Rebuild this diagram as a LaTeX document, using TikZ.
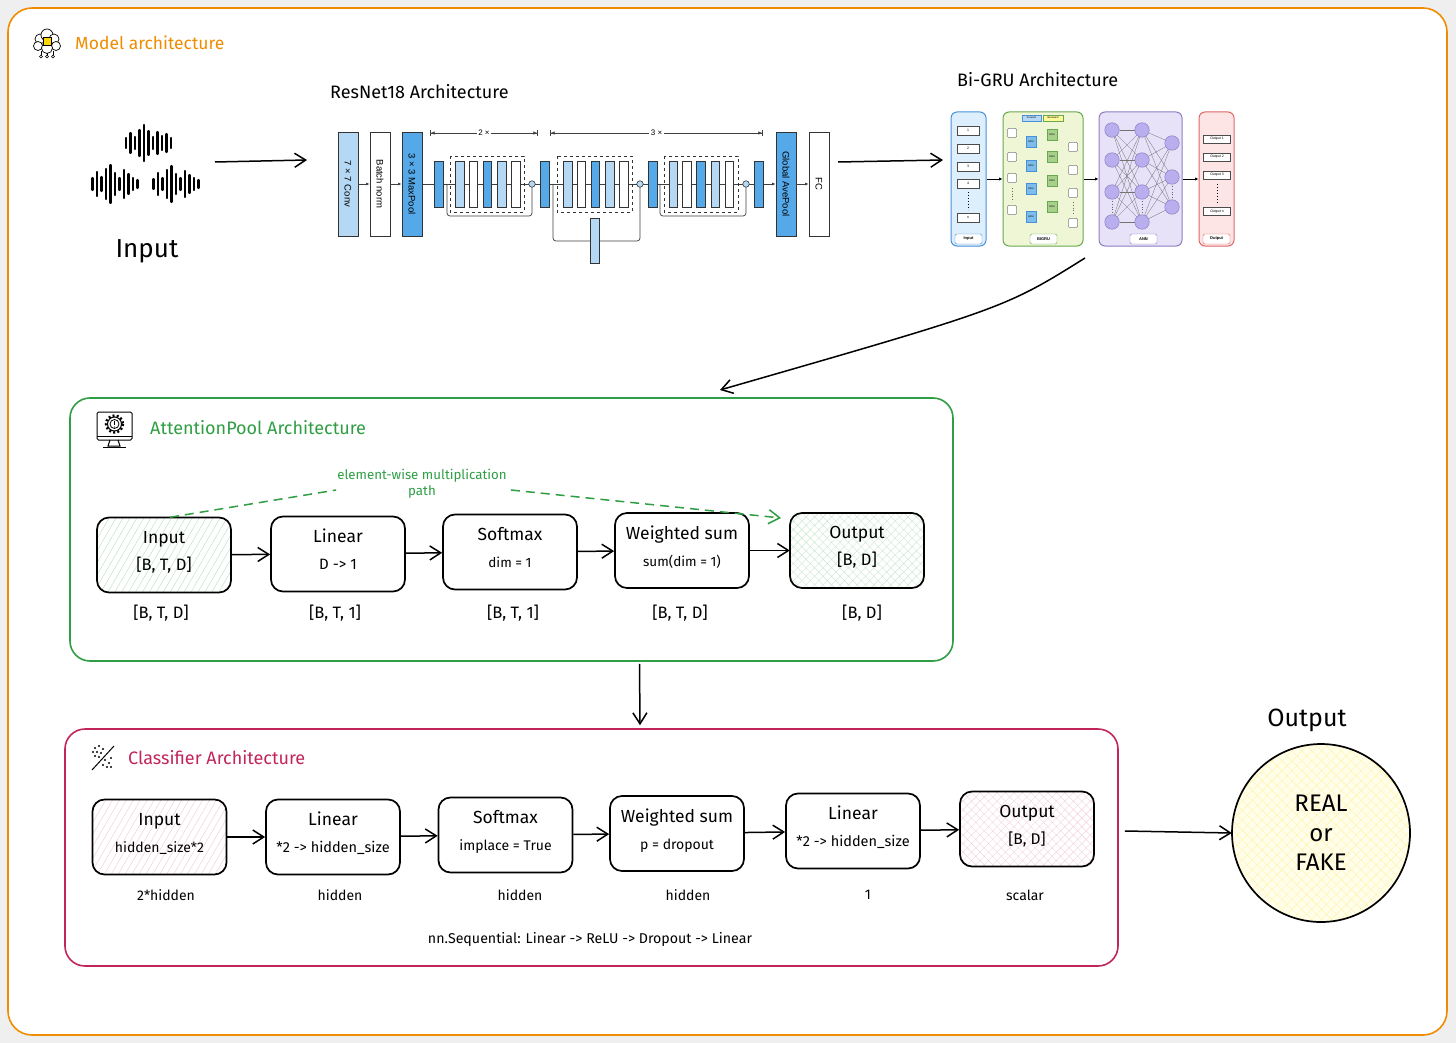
\documentclass[tikz,border=0pt]{standalone}
\usepackage{fontspec}
\setmainfont{Fira Sans}
\newfontfamily\arialf{Liberation Sans}
\usetikzlibrary{arrows.meta,patterns.meta,calc,positioning}
\pgfdeclarelayer{back}
\pgfdeclarelayer{bglayer}
\pgfsetlayers{back,bglayer,main}

\definecolor{orgc}{HTML}{F08C00}
\definecolor{grnc}{HTML}{2F9E44}
\definecolor{pnkc}{HTML}{C2255C}
\definecolor{bgg}{HTML}{EFEFEF}
\definecolor{lblue}{HTML}{B5D8F5}
\definecolor{mblue}{HTML}{56A9E8}
\definecolor{gbord}{HTML}{4A90D9}
\definecolor{ginfill}{HTML}{DDEEFC}
\definecolor{gbifill}{HTML}{EEF6D5}
\definecolor{gbibord}{HTML}{6AA84F}
\definecolor{annfill}{HTML}{E7E2F8}
\definecolor{annbord}{HTML}{8E7CC3}
\definecolor{annnode}{HTML}{B9AEEE}
\definecolor{outfill}{HTML}{FDE5E5}
\definecolor{outbord}{HTML}{E06666}
\definecolor{grugreen}{HTML}{A8D08D}
\definecolor{grublue}{HTML}{7DBDEB}

\newcommand\boxtxt[2]{#1\\[7pt]{\fontsize{14}{16}\selectfont #2}\rule[-9pt]{0pt}{1pt}}

\tikzset{
  harr/.style={line width=1.5pt, -{Straight Barb[length=11pt,width=14pt]}},
  blk/.style={draw=black, line width=1.7pt, rounded corners=12pt, minimum width=134pt, minimum height=75pt, inner sep=2pt, align=center, font=\fontsize{17.5}{20}\selectfont},
  undl/.style={font=\fontsize{14}{16}\selectfont, inner sep=1pt},
  ctitle/.style={anchor=west, inner sep=0, font=\fontsize{18}{20}\selectfont},
  cont/.style={line width=1.6pt, rounded corners=20pt, inner sep=0},
  rn/.style={draw=black!80, line width=0.7pt, inner sep=0, minimum width=104pt, minimum height=20pt, rotate=-90, font=\arialf\fontsize{9.5}{10}\selectfont},
  rbar/.style={draw=black!80, line width=0.6pt, inner sep=0, minimum width=9pt, minimum height=46pt, fill=mblue},
  rin/.style={draw=black!80, line width=0.6pt, inner sep=0, minimum width=8.5pt, minimum height=46pt},
  rline/.style={draw=black!75, line width=0.7pt},
  rarr/.style={rline, -{Latex[length=3.5pt,width=3pt]}},
  rplus/.style={circle, draw=black!80, fill=lblue, line width=0.6pt, minimum size=6.5pt, inner sep=0},
  gpanel/.style={line width=1pt, rounded corners=6pt, minimum height=134pt, inner sep=0},
  gtag/.style={draw, fill=white, rounded corners=1.5pt, minimum width=27pt, minimum height=10pt, inner sep=0, font=\arialf\bfseries\fontsize{4}{5}\selectfont},
  gsm/.style={draw=black!70, fill=white, line width=0.5pt, minimum width=22pt, minimum height=9pt, inner sep=0, font=\arialf\fontsize{3.5}{4}\selectfont},
  gsq/.style={draw=black!50, fill=white, line width=0.5pt, rounded corners=1pt, minimum size=9pt, inner sep=0},
  ggru/.style={line width=0.5pt, minimum width=10pt, minimum height=11pt, inner sep=0, font=\arialf\fontsize{2.5}{3}\selectfont},
  gline/.style={draw=black!55, line width=0.35pt},
  annn/.style={circle, draw=annbord, fill=annnode, line width=0.5pt, minimum size=14.5pt, inner sep=0},
  smarr/.style={line width=0.8pt, -{Latex[length=3.5pt,width=3.5pt]}},
}

\begin{document}
\begin{tikzpicture}[x=1pt,y=-1pt]
\useasboundingbox (0,0) rectangle (1456,1043);
\begin{pgfonlayer}{back}
\fill[bgg] (0,0) rectangle (1456,1043);
\node[draw=orgc, line width=1.6pt, rounded corners=24pt, fill=white, minimum width=1439pt, minimum height=1027pt, inner sep=0] (frame) at (727.5,521.5) {};
\end{pgfonlayer}

% ---------- header ----------
\foreach \cx/\cy/\r in {40/39/5, 47/35/6, 54/39/5, 38/46/4.5, 56/46/4.5, 47/48/5.5}
  \draw[line width=0.7pt, fill=white] (\cx,\cy) circle (\r);
\draw[line width=0.6pt, fill=yellow!75!orange] (43,37) rectangle (51,45);
\draw[line width=0.6pt] (41,51) -- (41,55) (47,53) -- (47,56) (53,51) -- (53,55);
\foreach \cx in {41,47,53} \draw[line width=0.6pt, fill=white] (\cx,56.5) circle (1.5);
\node[ctitle, text=orgc, font=\fontsize{17.5}{20}\selectfont] (mtitle) at (75,43) {Model architecture};

% ---------- input waves ----------
\foreach \h [count=\i] in {10,20,12,26,36,24,12,22,14,18,10}
  \draw[line width=2.2pt, line cap=round] ({121.5+\i*4.5},{143-\h/2}) -- ++(0,\h);
\foreach \h [count=\i] in {12,24,14,30,38,22,12,28,20,12,8}
  \draw[line width=2.2pt, line cap=round] ({88+\i*4.5},{184-\h/2}) -- ++(0,\h);
\foreach \h [count=\i] in {10,22,12,28,36,20,12,26,18,12,8}
  \draw[line width=2.2pt, line cap=round] ({149+\i*4.5},{184-\h/2}) -- ++(0,\h);
\node[font=\fontsize{26}{28}\selectfont] (inlbl) at (147,251) {Input};
\coordinate (wE) at (215,162);
\coordinate (rW) at (307,160);
\draw[harr] (wE) -- (rW);

% ---------- ResNet18 ----------
\node[ctitle] (rtitle) at (330,92) {ResNet18 Architecture};
\node[rn, fill=lblue] (conv) at (348,184) {7 × 7 Conv};
\node[rn, fill=white] (bn) at (380,184) {Batch norm};
\node[rn, fill=mblue] (mp) at (412,184) {3 × 3 MaxPool};
\node[rn, fill=mblue] (gap) at (786,184) {Global AvePool};
\node[rn, fill=white] (fc) at (819,184) {FC};
\node[rbar] (b1) at (438.5,184) {};
\node[rbar] (b2) at (545,184) {};
\node[rbar] (b3) at (652.5,184) {};
\node[rbar] (b4) at (759,184) {};
\begin{pgfonlayer}{bglayer}
\draw[rline] (mp) -- (b4);
\draw[rline, rounded corners=3pt] (447,184) -- (447,216) -- (532,216) -- (532,187);
\draw[rline, rounded corners=3pt] (553,184) -- (553,241) -- (640,241) -- (640,187);
\draw[rline, rounded corners=3pt] (660,184) -- (660,216) -- (746,216) -- (746,187);
\end{pgfonlayer}
\foreach \o [count=\k] in {0,108,213.5} {
  \foreach \x/\c [count=\i] in {460/lblue,473.5/white,487.5/mblue,502/lblue,516/white}
    \node[rin, fill=\c] (r\k\i) at (\x+\o,184) {};
}
\draw[dashed, line width=0.8pt, black!80] (450,156) rectangle (524,212);
\draw[dashed, line width=0.8pt, black!80] (557,156) rectangle (632,212);
\draw[dashed, line width=0.8pt, black!80] (664,156) rectangle (738,212);
\node[rplus] (p1) at (532,184) {};
\node[rplus] (p2) at (640,184) {};
\node[rplus] (p3) at (746,184) {};
\node[rin, fill=lblue, minimum height=45pt] (rs) at (595,240.5) {};
\draw[rarr] (conv) -- (bn);
\draw[rarr] (bn) -- (mp);
\draw[rarr] (b4) -- (gap);
\draw[rarr] (gap) -- (fc);
\coordinate (d2a) at (430,133);
\coordinate (d2b) at (538,133);
\coordinate (d3a) at (550,133);
\coordinate (d3b) at (763,133);
\draw[rline, {Bar[width=6pt]Latex[length=4pt,width=3.5pt]}-{Latex[length=4pt,width=3.5pt]Bar[width=6pt]}] (d2a) -- node[fill=white, font=\arialf\fontsize{8}{9}\selectfont, inner sep=1.5pt] (t2) {2 ×} (d2b);
\draw[rline, {Bar[width=6pt]Latex[length=4pt,width=3.5pt]}-{Latex[length=4pt,width=3.5pt]Bar[width=6pt]}] (d3a) -- node[fill=white, font=\arialf\fontsize{8}{9}\selectfont, inner sep=1.5pt] (t3) {3 ×} (d3b);
\coordinate (rE) at (838,162);
\coordinate (gW) at (943,160);
\draw[harr] (rE) -- (gW);

% ---------- Bi-GRU ----------
\node[ctitle] (gtitle) at (957,80) {Bi-GRU Architecture};
\node[gpanel, draw=gbord, fill=ginfill, minimum width=35pt] (gin) at (968.5,179) {};
\node[gpanel, draw=gbibord, fill=gbifill, minimum width=80pt] (gbi) at (1043,179) {};
\node[gpanel, draw=annbord, fill=annfill, minimum width=83pt] (gann) at (1140.5,179) {};
\node[gpanel, draw=outbord, fill=outfill, minimum width=35pt] (gout) at (1216.5,179) {};
\draw[smarr] (gin) -- (gbi);
\draw[smarr] (gbi) -- (gann);
\draw[smarr] (gann) -- (gout);
% input panel
\foreach \y/\t [count=\i] in {130.5/1,148.5/2,166.5/3,183.5/4,217.5/n}
  \node[gsm] (gi\i) at (968,\y) {\t};
\draw[dotted, line width=1pt] (968,192) -- (968,210);
\node[gtag, draw=gbord] (tin) at (968.5,239) {Input};
% bigru panel
\node[draw=gbord, fill=lblue, line width=0.4pt, minimum width=19pt, minimum height=6pt, inner sep=0, font=\arialf\fontsize{2.5}{3}\selectfont] (fw) at (1031.5,118) {Forward};
\node[draw=gbibord, fill=yellow!40, line width=0.4pt, minimum width=20pt, minimum height=6pt, inner sep=0, font=\arialf\fontsize{2.5}{3}\selectfont] (bw) at (1053,118) {Backward};
\foreach \y [count=\i] in {133,157,178,210} \node[gsq] (ls\i) at (1012,\y) {};
\foreach \y [count=\i] in {147,170,193,223} \node[gsq] (rsq\i) at (1073,\y) {};
\foreach \y [count=\i] in {142,166,189,217} \node[ggru, draw=gbord, fill=grublue] (bg\i) at (1031,\y) {GRU};
\foreach \y [count=\i] in {135,157,181,207} \node[ggru, draw=gbibord, fill=grugreen] (gg\i) at (1052,\y) {GRU};
\begin{pgfonlayer}{bglayer}
\foreach \i in {1,...,4} {
  \draw[gline] (ls\i) -- (bg\i);
  \draw[gline] (ls\i) -- (gg\i);
  \draw[gline] (bg\i) -- (rsq\i);
  \draw[gline] (gg\i) -- (rsq\i);
}
\draw[gline] (fw) -- (bg1) -- (bg2) -- (bg3) -- (bg4);
\draw[gline] (bw) -- (gg1) -- (gg2) -- (gg3) -- (gg4);
\end{pgfonlayer}
\draw[dotted, line width=0.8pt, black!60] (1012,188) -- (1012,202);
\draw[dotted, line width=0.8pt, black!60] (1073,202) -- (1073,215);
\node[gtag, draw=gbibord] (tbi) at (1043.5,239) {BIGRU};
% ann panel
\foreach \y [count=\i] in {130,160,192,222} \node[annn] (na\i) at (1112,\y) {};
\foreach \y [count=\i] in {130,160,192,222} \node[annn] (nb\i) at (1142,\y) {};
\foreach \y [count=\i] in {143,177,207} \node[annn] (nc\i) at (1172,\y) {};
\foreach \i in {1,...,4} {
  \foreach \j in {1,...,4} \draw[gline, line width=0.3pt] (na\i) -- (nb\j);
  \foreach \j in {1,...,3} \draw[gline, line width=0.3pt] (nb\i) -- (nc\j);
}
\draw[dotted, line width=0.8pt, black!60] (1112,201) -- (1112,213);
\draw[dotted, line width=0.8pt, black!60] (1142,201) -- (1142,213);
\draw[dotted, line width=0.8pt, black!60] (1172,186) -- (1172,198);
\node[gtag, draw=annbord] (tann) at (1143.5,239) {ANN};
% output panel
\foreach \y/\t [count=\i] in {139/Output 1,157/Output 2,175/Output 3,211.5/Output n}
  \node[gsm, minimum width=27pt, minimum height=8pt] (go\i) at (1217,\y) {\t};
\draw[dotted, line width=1pt] (1217,184) -- (1217,203);
\node[gtag, draw=outbord] (tout) at (1216.5,239) {Output};

% curved arrow to attention pool
\coordinate (cA) at (1085,258);
\coordinate (cB) at (720,390);
\draw[harr] (cA) .. controls (1005,308) .. (cB);

% ---------- AttentionPool ----------
\node[cont, draw=grnc, minimum width=883pt, minimum height=263pt] (attn) at (511.5,529.5) {};
\draw[line width=1pt, rounded corners=1.5pt] (97,412) rectangle (132,440);
\draw[line width=1pt] (97,436) -- (132,436);
\draw[line width=1pt] (110,440) -- (108,446) -- (120,446) -- (118,440);
\draw[line width=1pt] (103,447.5) -- (126,447.5);
\draw[line width=2.4pt, dash pattern=on 2pt off 2.2pt] (114.5,424) circle (8.5);
\draw[line width=1pt, fill=white] (114.5,424) circle (7);
\draw[line width=0.8pt] (114.5,424) circle (4.5);
\draw[line width=1pt] (114.5,421) -- (114.5,425);
\fill (114.5,427) circle (0.7);
\node[ctitle, text=grnc] (atitle) at (150,428) {AttentionPool Architecture};

\node[blk, pattern={Lines[angle=60,distance=6pt,line width=0.5pt]}, pattern color=grnc!30] (aIn) at (164,555) {\boxtxt{Input}{\fontsize{16.5}{18}\selectfont [B, T, D]}};
\node[blk] (aLin) at (338,554) {\boxtxt{Linear}{\fontsize{15}{16}\selectfont D -> 1}};
\node[blk] (aSoft) at (510,552) {\boxtxt{Softmax}{\fontsize{13.5}{14}\selectfont dim = 1}};
\node[blk] (aWs) at (682,550.5) {\boxtxt{Weighted sum}{\fontsize{13.5}{14}\selectfont sum(dim = 1)}};
\node[blk, pattern={Hatch[angle=45,distance=6pt,line width=0.4pt]}, pattern color=grnc!25] (aOut) at (857,550.5) {\boxtxt{Output}{\fontsize{16.5}{18}\selectfont [B, D]}};
\node[undl, font=\fontsize{16.5}{18}\selectfont] (laIn) at (161,613) {[B, T, D]};
\node[undl, font=\fontsize{16.5}{18}\selectfont] (laLin) at (335,613) {[B, T, 1]};
\node[undl, font=\fontsize{16.5}{18}\selectfont] (laSoft) at (513,613) {[B, T, 1]};
\node[undl, font=\fontsize{16.5}{18}\selectfont] (laWs) at (680,613) {[B, T, D]};
\node[undl, font=\fontsize{16.5}{18}\selectfont] (laOut) at (862,613) {[B, D]};
\draw[harr] (aIn) -- (aLin);
\draw[harr] (aLin) -- (aSoft);
\draw[harr] (aSoft) -- (aWs);
\draw[harr] (aWs) -- (aOut);
\node[text=grnc, font=\fontsize{13.3}{16}\selectfont, align=center, inner sep=0] (ewm) at (422,484) {element-wise multiplication\\path};
\coordinate (dEnd) at (781,518);
\draw[grnc, line width=1.5pt, dash pattern=on 9pt off 6pt] ([xshift=6pt]aIn.north) -- ($(ewm.west)+(-1,6)$);
\draw[grnc, line width=1.5pt, dash pattern=on 9pt off 6pt, -{Straight Barb[length=11pt,width=14pt]}] ($(ewm.east)+(4,6)$) -- (dEnd);

% ---------- Classifier ----------
\node[cont, draw=pnkc, minimum width=1053pt, minimum height=237pt] (cls) at (591.5,847.5) {};
\draw[harr] ($(attn.south)+(128,2)$) -- ($(cls.north)+(48.5,-3)$);
\foreach \px/\py in {95/748,99/746,103/749,93/752,97/752,101/753,95/756,99/757,105/760,109/763,111/758,103/765,107/767,111/767}
  \fill (\px,\py) circle (1.2);
\draw[line width=1pt] (92,770) -- (114,746);
\node[ctitle, text=pnkc] (ctitle) at (128,758) {Classifier Architecture};

\node[blk, pattern={Lines[angle=60,distance=6pt,line width=0.5pt]}, pattern color=pnkc!22] (cIn) at (159.5,837) {\boxtxt{Input}{hidden\_size*2}};
\node[blk] (cLin1) at (333,837) {\boxtxt{Linear}{\fontsize{14.5}{16}\selectfont *2 -> hidden\_size}};
\node[blk] (cSoft) at (505.5,835) {\boxtxt{Softmax}{implace = True}};
\node[blk] (cDrop) at (677,833.5) {\boxtxt{Weighted sum}{p = dropout}};
\node[blk] (cLin2) at (853,831) {\boxtxt{Linear}{\fontsize{14.5}{16}\selectfont *2 -> hidden\_size}};
\node[blk, pattern={Hatch[angle=45,distance=6pt,line width=0.4pt]}, pattern color=pnkc!20] (cOut) at (1027,829) {\boxtxt{Output}{\fontsize{15.5}{17}\selectfont [B, D]}};
\node[undl] (lcIn) at (166,895) {2*hidden};
\node[undl] (lcLin1) at (340,895) {hidden};
\node[undl] (lcSoft) at (520,895) {hidden};
\node[undl] (lcDrop) at (688,895) {hidden};
\node[undl] (lcLin2) at (868,895) {1};
\node[undl] (lcOut) at (1025,895) {scalar};
\draw[harr] (cIn) -- (cLin1);
\draw[harr] (cLin1) -- (cSoft);
\draw[harr] (cSoft) -- (cDrop);
\draw[harr] (cDrop) -- (cLin2);
\draw[harr] (cLin2) -- (cOut);
\node[font=\fontsize{14.2}{16}\selectfont, inner sep=0] (seq) at (590,939) {nn.Sequential: Linear -> ReLU -> Dropout -> Linear};

% ---------- Output ----------
\node[font=\fontsize{25}{28}\selectfont] (otitle) at (1307,720) {Output};
\node[circle, draw=black, line width=1.7pt, minimum size=178pt, inner sep=0, align=center, font=\fontsize{24}{29.5}\selectfont, preaction={fill=yellow!8}, pattern={Hatch[angle=45,distance=7pt,line width=0.4pt]}, pattern color=yellow!70!orange!35] (circ) at (1321,833) {REAL\\or\\FAKE};
\draw[harr] ($(cls.east |- circ.west)+(6,-2)$) -- (circ.west);
\end{tikzpicture}
\end{document}
